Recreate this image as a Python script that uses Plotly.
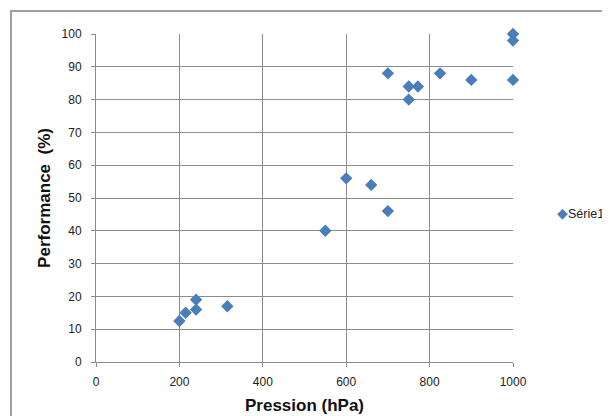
import plotly.graph_objects as go

pression = [200, 215, 240, 240, 315, 550, 600, 660, 700, 700, 750, 750, 772, 825, 900, 1000, 1000, 1000]
performance = [12.5, 15, 16, 19, 17, 40, 56, 54, 46, 88, 84, 80, 84, 88, 86, 100, 98, 86]
series_name = "Série1"
color = "#4A7EBB"

fig = go.Figure()
fig.add_trace(go.Scatter(
    x=pression, y=performance, mode="markers", name=series_name,
    marker=dict(symbol="diamond", size=9.5, color=color),
    cliponaxis=False, showlegend=False,
))

grid = "#8C8C8C"
font = "Liberation Sans, Arial, sans-serif"
fig.update_layout(
    width=602, height=408,
    margin=dict(l=88, r=97, t=26, b=54, autoexpand=False),
    paper_bgcolor="white", plot_bgcolor="white",
    showlegend=False,
    xaxis=dict(range=[0, 1000], dtick=200, showgrid=True, gridcolor=grid, gridwidth=1,
               zeroline=False, showline=True, linecolor=grid, linewidth=1, mirror=False,
               ticks="outside", ticklen=4, tickcolor=grid, automargin=False,
               ticklabelstandoff=5,
               tickfont=dict(family=font, size=12, color="#222"),
               title=dict(text="<b>Pression (hPa)</b>", font=dict(family=font, size=17, color="#111"), standoff=10)),
    yaxis=dict(range=[0, 100], dtick=10, showgrid=True, gridcolor=grid, gridwidth=1,
               zeroline=False, showline=True, linecolor=grid, linewidth=1,
               ticks="outside", ticklen=4, tickcolor=grid, automargin=True,
               ticklabelstandoff=7,
               tickfont=dict(family=font, size=12, color="#222"),
               title=dict(text="<b>Performance  (%)</b>", font=dict(family=font, size=17, color="#111"), standoff=6)),
    annotations=[dict(xref="paper", yref="paper", x=459 / 417, y=0.455,
                      xanchor="left", yanchor="middle", showarrow=False,
                      text=f"<span style='color:{color};font-size:14px'>◆</span>{series_name}",
                      font=dict(family=font, size=12.5, color="#222"))],
    shapes=[dict(type="rect", xref="paper", yref="paper",
                 x0=-85/417, x1=1.3, y0=-0.5, y1=1 + 23/328,
                 line=dict(color="#A0A0A0", width=2), layer="below")],
)
fig.write_html("out.html")
